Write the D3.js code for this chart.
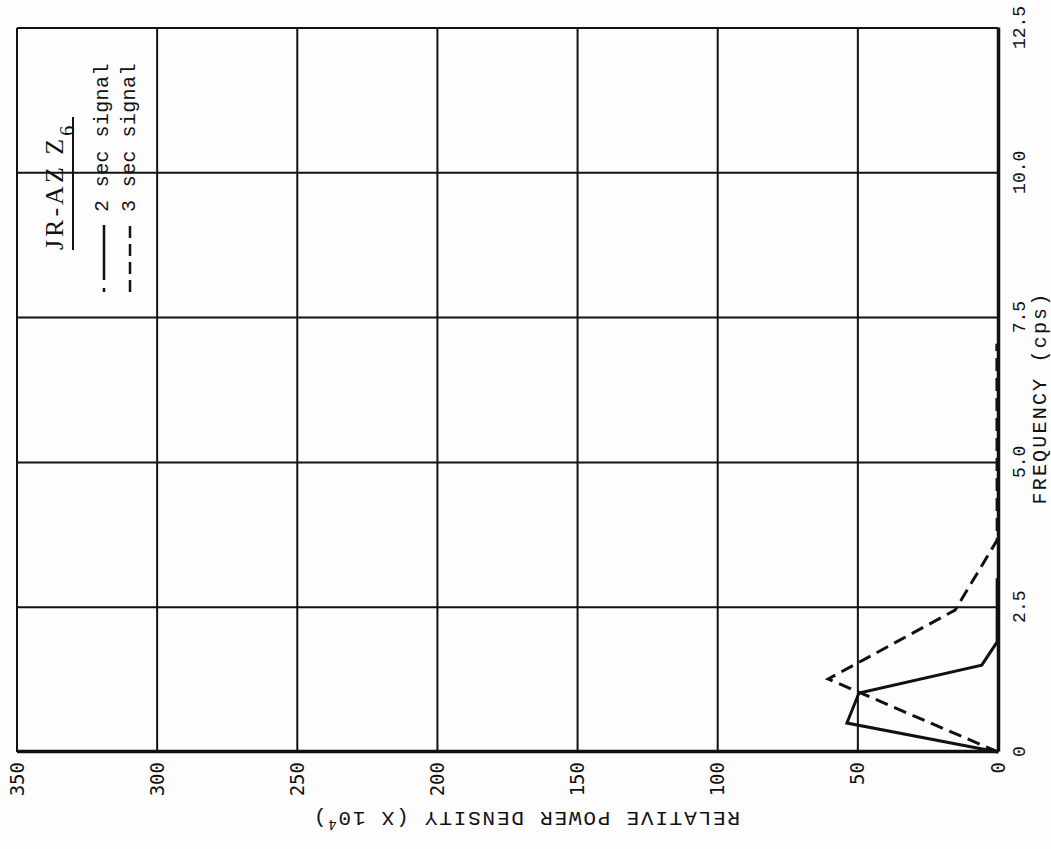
<!DOCTYPE html>
<html><head><meta charset="utf-8">
<script src="https://cdn.jsdelivr.net/npm/d3@7"></script>
<style>
html,body{margin:0;padding:0;background:#fdfdfd;}
svg{display:block;}
</style></head>
<body>
<svg id="chart" width="1051" height="849"></svg>
<script>
// ---- data ----
const freqTicks = [0, 2.5, 5.0, 7.5, 10.0, 12.5];
const powerTicks = [0, 50, 100, 150, 200, 250, 300, 350];
const freq2sec = [0, 0.50, 1.02, 1.50, 1.90, 3.00];
const power2sec = [0, 53.9, 49.6, 5.8, 0.3, 0.3];
const freq3sec = [0, 1.26, 2.45, 3.66, 7.05];
const power3sec = [0, 60.6, 15.3, 0.3, 0.4];
const seriesNames = ["2 sec signal", "3 sec signal"];
const legendTitle = "JR-AZ Z";
const legendSub = "6";
const xTitle = "FREQUENCY (cps)";
const yTitle = "RELATIVE POWER DENSITY (X 10";
const yTitleSup = "4";

const svg = d3.select("#chart");
svg.append("rect").attr("width",1051).attr("height",849).attr("fill","#fdfdfd");
// whole chart rotated 90° counter-clockwise
const g = svg.append("g").attr("transform","translate(0,849) rotate(-90)");

const x = d3.scaleLinear().domain([0,12.5]).range([97,821]);
const y = d3.scaleLinear().domain([0,350]).range([998,17]);
const ink = "#111";

// grid
g.append("g").selectAll("line").data(freqTicks).join("line")
  .attr("x1",d=>x(d)).attr("x2",d=>x(d)).attr("y1",y(350)).attr("y2",y(0))
  .attr("stroke",ink).attr("stroke-width",2);
g.append("g").selectAll("line").data(powerTicks).join("line")
  .attr("y1",d=>y(d)).attr("y2",d=>y(d)).attr("x1",x(0)).attr("x2",x(12.5))
  .attr("stroke",ink).attr("stroke-width",2);

// axes
const xAxis = g.append("g").attr("transform",`translate(0,${y(0)})`)
  .call(d3.axisBottom(x).tickValues(freqTicks).tickSize(0).tickPadding(14)
    .tickFormat(d=> d===0 ? "0" : d.toFixed(1)));
xAxis.select(".domain").attr("stroke",ink).attr("stroke-width",3.5);
xAxis.selectAll("text").attr("font-family","Liberation Mono").attr("font-size",18).attr("fill",ink);

const yAxis = g.append("g").attr("transform",`translate(${x(0)},0)`)
  .call(d3.axisLeft(y).tickValues(powerTicks).tickSize(0).tickPadding(10));
yAxis.select(".domain").attr("stroke",ink).attr("stroke-width",3.5);
yAxis.selectAll("text").attr("font-family","DejaVu Sans Mono").attr("font-size",19).attr("fill",ink);

// axis titles
g.append("text").attr("x",451).attr("y",1046).attr("text-anchor","middle")
  .attr("font-family","Liberation Mono").attr("font-size",20).attr("letter-spacing",2.2)
  .attr("fill",ink).text(xTitle);
const yt = g.append("text").attr("transform",`translate(37,526) rotate(-90)`).attr("text-anchor","middle")
  .attr("font-family","Liberation Mono").attr("font-size",21).attr("letter-spacing",1.8).attr("fill",ink);
yt.append("tspan").text(yTitle);
yt.append("tspan").attr("baseline-shift","super").attr("font-size",14).text(yTitleSup);
yt.append("tspan").text(")");

// series
const line = d3.line().x(d=>x(d[0])).y(d=>y(d[1]));
g.append("path").datum(d3.zip(freq2sec,power2sec)).attr("d",line)
  .attr("fill","none").attr("stroke",ink).attr("stroke-width",3).attr("stroke-linejoin","miter");
g.append("path").datum(d3.zip(freq3sec,power3sec)).attr("d",line)
  .attr("fill","none").attr("stroke",ink).attr("stroke-width",3).attr("stroke-dasharray","13,7");

// legend
const lt = g.append("text").attr("x",599).attr("y",63)
  .attr("font-family","Liberation Serif").attr("font-size",26).attr("letter-spacing",3).attr("fill",ink);
lt.append("tspan").text(legendTitle);
lt.append("tspan").attr("baseline-shift","sub").attr("font-size",20).text(legendSub);
g.append("line").attr("x1",599).attr("x2",732).attr("y1",73).attr("y2",73).attr("stroke",ink).attr("stroke-width",2);

g.append("line").attr("x1",557).attr("x2",624).attr("y1",104).attr("y2",104)
  .attr("stroke",ink).attr("stroke-width",2.5).attr("stroke-dasharray","4,8,55");
g.append("line").attr("x1",557).attr("x2",624).attr("y1",130).attr("y2",130)
  .attr("stroke",ink).attr("stroke-width",2.5).attr("stroke-dasharray","12,6");
g.selectAll(".legtext").data(seriesNames).join("text").attr("class","legtext")
  .attr("x",637).attr("y",(d,i)=>108+i*27)
  .attr("font-family","Liberation Mono").attr("font-size",20).attr("letter-spacing",0.4).attr("fill",ink)
  .text(d=>d);
</script>
</body></html>
